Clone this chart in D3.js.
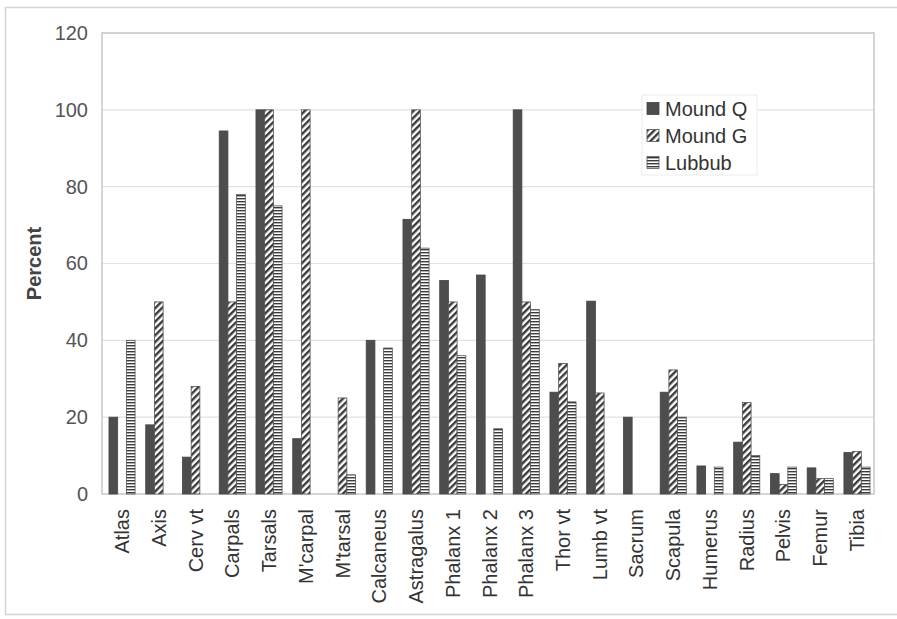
<!DOCTYPE html>
<html>
<head>
<meta charset="utf-8">
<script src="https://cdn.jsdelivr.net/npm/d3@7"></script>
<style>
  html, body { margin: 0; padding: 0; background: #fff; }
  svg { display: block; font-family: "Liberation Sans", Arial, sans-serif; }
</style>
</head>
<body>
<svg id="chart" width="897" height="619"></svg>
<script>
// ---- data ----
const categories = ["Atlas", "Axis", "Cerv vt", "Carpals", "Tarsals", "M'carpal", "M'tarsal", "Calcaneus",
  "Astragalus", "Phalanx 1", "Phalanx 2", "Phalanx 3", "Thor vt", "Lumb vt", "Sacrum", "Scapula",
  "Humerus", "Radius", "Pelvis", "Femur", "Tibia"];
const seriesNames = ["Mound Q", "Mound G", "Lubbub"];
const moundQ = [20, 18, 9.6, 94.5, 100, 14.4, 0, 40, 71.5, 55.6, 57, 100, 26.5, 50.2, 20, 26.5, 7.3, 13.5, 5.3, 6.8, 10.8];
const moundG = [0, 50, 28, 50, 100, 100, 25, 0, 100, 50, 0, 50, 34, 26.3, 0, 32.3, 0, 23.8, 2.5, 4, 11.1];
const lubbub = [40, 0, 0, 78, 75, 0, 5, 38, 64, 36, 17, 48, 24, 0, 0, 20, 7, 10, 7, 4, 7];
const yTicks = [0, 20, 40, 60, 80, 100, 120];
</script>
<script>
const svg = d3.select("#chart");
const W = 897, H = 619;
const plot = { left: 102, top: 33, right: 874, bottom: 494 };

// outer frame (left, top, bottom edges visible)
svg.append("path").attr("d", `M${W},7.5 H5.5 V614.5 H${W}`)
  .attr("fill", "none").attr("stroke", "#d4d4d4").attr("stroke-width", 1.5);

const defs = svg.append("defs");
const diag = defs.append("pattern").attr("id", "diag").attr("patternUnits", "userSpaceOnUse")
  .attr("width", 4.8).attr("height", 4.8).attr("patternTransform", "rotate(45)");
diag.append("rect").attr("width", 4.8).attr("height", 4.8).attr("fill", "#fff");
diag.append("rect").attr("width", 2.4).attr("height", 4.8).attr("fill", "#3a3a3a");

const horiz = defs.append("pattern").attr("id", "horiz").attr("patternUnits", "userSpaceOnUse")
  .attr("width", 6).attr("height", 3);
horiz.append("rect").attr("width", 6).attr("height", 3).attr("fill", "#fff");
horiz.append("rect").attr("width", 6).attr("height", 1.4).attr("fill", "#3a3a3a");

const x0 = d3.scaleBand().domain(categories).range([plot.left, plot.right + 3])
  .paddingInner(0.29).paddingOuter(0.19);
const x1 = d3.scaleBand().domain(seriesNames).range([0, x0.bandwidth()]);
const y = d3.scaleLinear().domain([0, 120]).range([plot.bottom, plot.top]);

// grid
svg.append("g").selectAll("line").data(yTicks.filter(t => t > 0)).join("line")
  .attr("x1", plot.left).attr("x2", plot.right)
  .attr("y1", d => y(d)).attr("y2", d => y(d))
  .attr("stroke", "#e2e2e2").attr("stroke-width", 1.2);

// plot border
svg.append("rect").attr("x", plot.left).attr("y", plot.top)
  .attr("width", plot.right - plot.left).attr("height", plot.bottom - plot.top)
  .attr("fill", "none").attr("stroke", "#c8c8c8").attr("stroke-width", 1.5);

// y axis
const yAxis = d3.axisLeft(y).tickValues(yTicks).tickSize(0).tickPadding(14);
const gy = svg.append("g").attr("transform", `translate(${plot.left},0)`).call(yAxis);
gy.select(".domain").remove();
gy.selectAll("text").attr("font-size", 20).attr("fill", "#555").attr("font-family", "Liberation Sans, Arial, sans-serif");

svg.append("text").attr("transform", `translate(41,${(plot.top + plot.bottom) / 2}) rotate(-90)`)
  .attr("text-anchor", "middle").attr("font-size", 20).attr("font-weight", "bold").attr("fill", "#444")
  .text("Percent");

// bars
const series = [
  { name: "Mound Q", values: moundQ, fill: "#4d4d4d", stroke: "#444" },
  { name: "Mound G", values: moundG, fill: "url(#diag)", stroke: "#555" },
  { name: "Lubbub", values: lubbub, fill: "url(#horiz)", stroke: "#555" }
];
const gBars = svg.append("g");
series.forEach(s => {
  gBars.append("g").selectAll("rect")
    .data(categories.map((c, i) => ({ c, v: s.values[i] })).filter(d => d.v > 0))
    .join("rect")
    .attr("x", d => x0(d.c) + x1(s.name))
    .attr("y", d => y(d.v))
    .attr("width", x1.bandwidth())
    .attr("height", d => y(0) - y(d.v))
    .attr("fill", s.fill)
    .attr("stroke", s.stroke).attr("stroke-width", 0.8);
});

// x axis labels
const xAxis = d3.axisBottom(x0).tickSize(0).tickPadding(0);
const gx = svg.append("g").attr("transform", `translate(0,${plot.bottom})`).call(xAxis);
gx.select(".domain").remove();
gx.selectAll("text")
  .attr("font-size", 20).attr("fill", "#333").attr("font-family", "Liberation Sans, Arial, sans-serif")
  .attr("text-anchor", "end")
  .attr("transform", "rotate(-90)")
  .attr("x", -15).attr("y", 0).attr("dy", "0.35em");

// legend
const lg = svg.append("g").attr("transform", "translate(642,95)");
lg.append("rect").attr("width", 115).attr("height", 80).attr("fill", "#fff")
  .attr("stroke", "#ececec").attr("stroke-width", 1);
series.forEach((s, i) => {
  const row = lg.append("g").attr("transform", `translate(5,${14 + i * 27})`);
  row.append("rect").attr("x", 0).attr("y", -6.5).attr("width", 12).attr("height", 12)
    .attr("fill", s.fill).attr("stroke", s.stroke).attr("stroke-width", 0.8);
  row.append("text").attr("x", 18).attr("y", 0).attr("dy", "0.36em")
    .attr("font-size", 20).attr("fill", "#333").text(s.name);
});
</script>
</body>
</html>
